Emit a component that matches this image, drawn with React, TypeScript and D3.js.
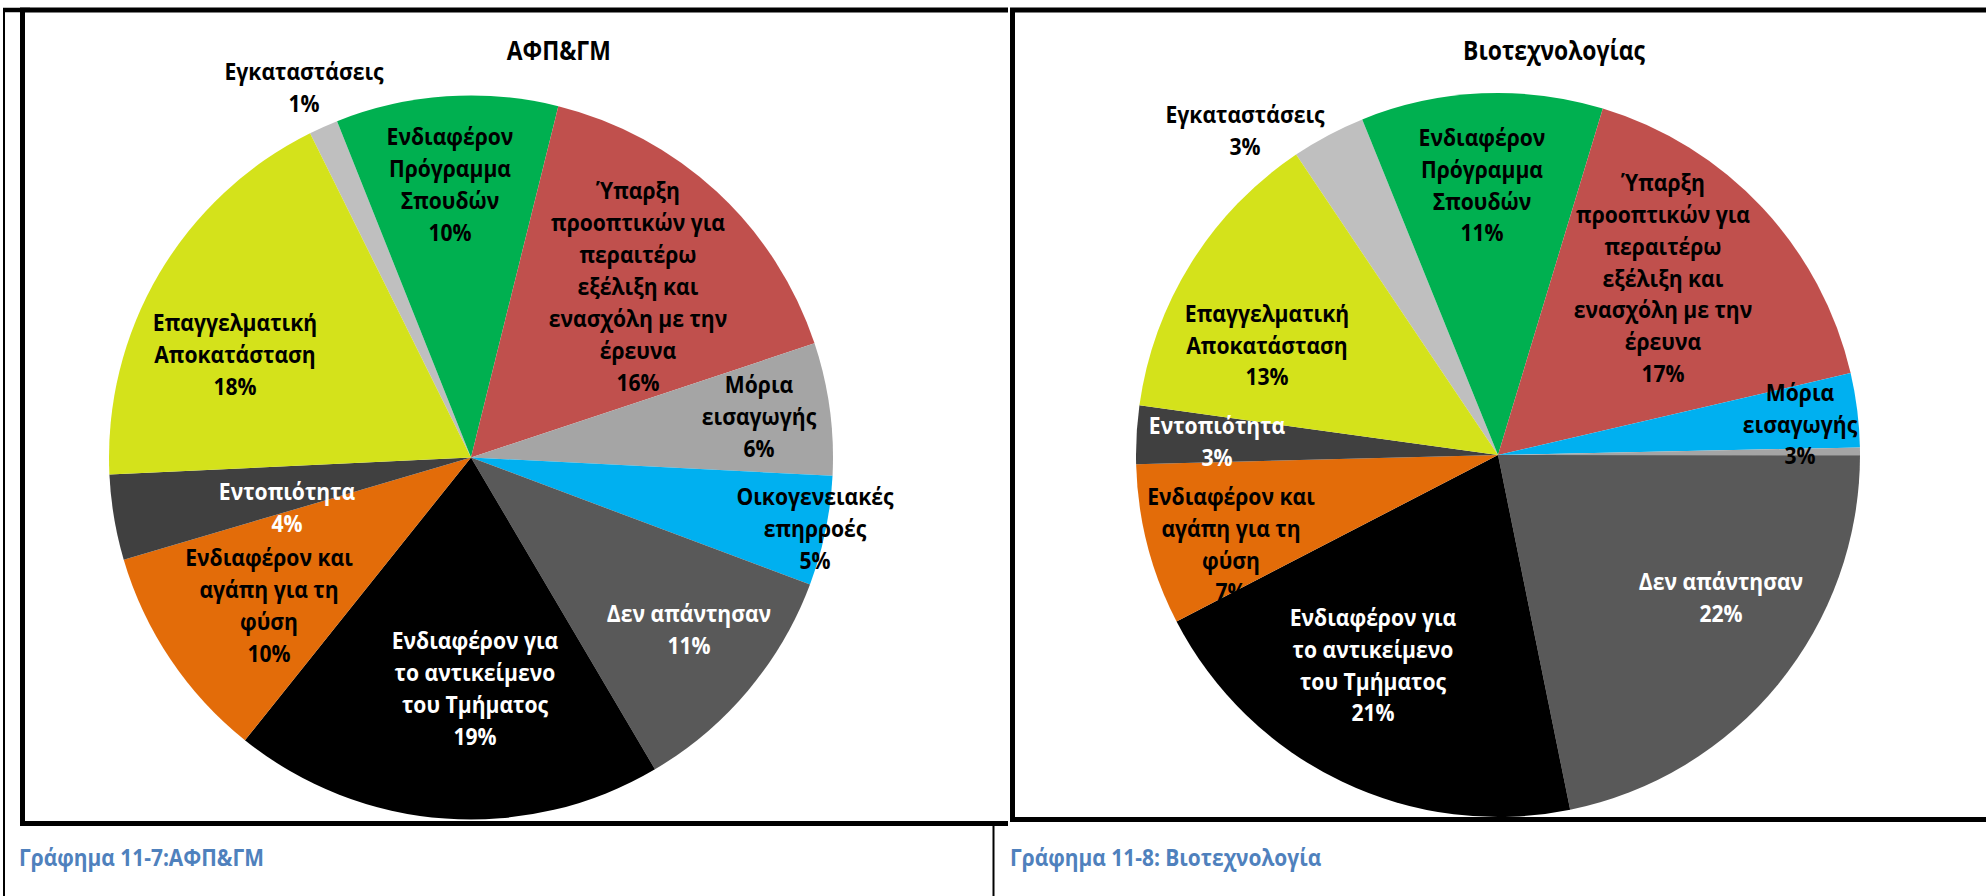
import React from 'react';
import * as d3 from 'd3';

// ---------- DATA ----------
const CATEGORIES = [
  'Εγκαταστάσεις',
  'Ενδιαφέρον Πρόγραμμα Σπουδών',
  'Ύπαρξη προοπτικών για περαιτέρω εξέλιξη και ενασχόλη με την έρευνα',
  'Μόρια εισαγωγής',
  'Οικογενειακές επηρροές',
  'Δεν απάντησαν',
  'Ενδιαφέρον για το αντικείμενο του Τμήματος',
  'Ενδιαφέρον και αγάπη για τη φύση',
  'Εντοπιότητα',
  'Επαγγελματική Αποκατάσταση',
];

const LABEL_LINES = [
  ['Εγκαταστάσεις'],
  ['Ενδιαφέρον', 'Πρόγραμμα', 'Σπουδών'],
  ['Ύπαρξη', 'προοπτικών για', 'περαιτέρω', 'εξέλιξη και', 'ενασχόλη με την', 'έρευνα'],
  ['Μόρια', 'εισαγωγής'],
  ['Οικογενειακές', 'επηρροές'],
  ['Δεν απάντησαν'],
  ['Ενδιαφέρον για', 'το αντικείμενο', 'του Τμήματος'],
  ['Ενδιαφέρον και', 'αγάπη για τη', 'φύση'],
  ['Εντοπιότητα'],
  ['Επαγγελματική', 'Αποκατάσταση'],
];

// ΑΦΠ&ΓΜ (percent shares)
const AFP_VALUES = [1.3, 9.9, 16.0, 5.9, 4.9, 10.8, 19.2, 9.7, 3.8, 18.4];
// Βιοτεχνολογίας
const BIO_VALUES = [3.3, 10.8, 16.7, 3.3, 0.35, 21.8, 20.6, 7.2, 2.6, 13.4];

const AFP_TITLE = 'ΑΦΠ&ΓΜ';
const BIO_TITLE = 'Βιοτεχνολογίας';
const AFP_CAPTION = 'Γράφημα 11-7:ΑΦΠ&ΓΜ';
const BIO_CAPTION = 'Γράφημα 11-8: Βιοτεχνολογία';

// ---------- STYLE / LAYOUT ----------
const AFP_COLORS = ['#BFBFBF', '#00B050', '#C0504D', '#A5A5A5', '#00B0F0', '#595959', '#000000', '#E36C09', '#404040', '#D4E21B'];
const BIO_COLORS = ['#BFBFBF', '#00B050', '#C0504D', '#00B0F0', '#A5A5A5', '#595959', '#000000', '#E36C09', '#404040', '#D4E21B'];
const LABEL_TEXT_COLORS = ['#000', '#000', '#000', '#000', '#000', '#fff', '#fff', '#000', '#fff', '#000'];

// label block centres relative to pie centre (px)
const AFP_LABEL_POS: [number, number][] = [
  [-167, -370], [-21, -273], [167, -171], [288, -41], [344, 71],
  [218, 172], [4, 231], [-202, 148], [-184, 50], [-236, -103],
];
const BIO_LABEL_POS: [number, number][] = [
  [-253, -325], [-16, -270], [165, -177], [302, -31], [0, 0],
  [223, 142], [-125, 210], [-267, 89], [-281, -14], [-231, -110],
];

const FONT = "'Open Sans', 'Noto Sans', sans-serif";
const SX = 0.88; // horizontal condensing to mimic Calibri widths
const LABEL_SIZE = 24;
const LINE_H = 32;
const R = 362;

type PieProps = {
  values: number[];
  colors: string[];
  labelPos: [number, number][];
  cx: number;
  cy: number;
  startDeg: number;
};

function Pie({ values, colors, labelPos, cx, cy, startDeg }: PieProps) {
  const total = d3.sum(values);
  const start = (startDeg * Math.PI) / 180;
  const pie = d3.pie<number>().sort(null).value((d) => d).startAngle(start).endAngle(start + 2 * Math.PI);
  const arcs = pie(values);
  const arc = d3.arc<d3.PieArcDatum<number>>().innerRadius(0).outerRadius(R);
  return (
    <g transform={`translate(${cx},${cy})`}>
      {arcs.map((a, i) => (
        <path key={'s' + i} d={arc(a) || ''} fill={colors[i]} />
      ))}
      {arcs.map((a, i) => {
        const pct = Math.round((values[i] / total) * 100);
        if (pct === 0) return null;
        const lines = [...LABEL_LINES[i], pct + '%'];
        const [lx, ly] = labelPos[i];
        const n = lines.length;
        return (
          <g key={'l' + i} transform={`translate(${lx},${ly}) scale(${SX},1)`}>
            <text
              textAnchor="middle"
              fontFamily={FONT}
              fontWeight={700}
              fontSize={LABEL_SIZE}
              fill={LABEL_TEXT_COLORS[i]}
            >
              {lines.map((t, k) => (
                <tspan key={k} x={0} y={(k - (n - 1) / 2) * LINE_H + 8.5}>
                  {t}
                </tspan>
              ))}
            </text>
          </g>
        );
      })}
    </g>
  );
}

function Title({ x, y, text }: { x: number; y: number; text: string }) {
  return (
    <g transform={`translate(${x},${y}) scale(${SX},1)`}>
      <text textAnchor="middle" fontFamily={FONT} fontWeight={700} fontSize={26} fill="#000">
        {text}
      </text>
    </g>
  );
}

function Caption({ x, y, text }: { x: number; y: number; text: string }) {
  return (
    <g transform={`translate(${x},${y}) scale(0.93,1)`}>
      <text fontFamily={FONT} fontWeight={700} fontSize={22.5} fill="#4F81BD">
        {text}
      </text>
    </g>
  );
}

export default function App() {
  return (
    <svg
      width={1986}
      height={896}
      style={{ position: 'absolute', left: 0, top: 0, background: '#fff' }}
    >
      <rect x={0} y={0} width={1986} height={896} fill="#fff" />
      {/* table lines */}
      <line x1={4} y1={8} x2={4} y2={896} stroke="#000" strokeWidth={2} />
      <line x1={993.5} y1={824} x2={993.5} y2={896} stroke="#000" strokeWidth={2} />
      <line x1={3} y1={10} x2={30} y2={10} stroke="#000" strokeWidth={4.5} />

      {/* chart 1 frame */}
      <path d="M1008,10 L22.5,10 L22.5,823.5 L1008,823.5" fill="#fff" stroke="#000" strokeWidth={5} />
      <Pie values={AFP_VALUES} colors={AFP_COLORS} labelPos={AFP_LABEL_POS} cx={471} cy={457.5} startDeg={-26.4} />
      <Title x={558.7} y={60} text={AFP_TITLE} />

      {/* chart 2 frame */}
      <rect x={1012.5} y={10} width={1100} height={809.5} fill="#fff" stroke="#000" strokeWidth={5} />
      <Pie values={BIO_VALUES} colors={BIO_COLORS} labelPos={BIO_LABEL_POS} cx={1498} cy={455} startDeg={-33.9} />
      <Title x={1554} y={60} text={BIO_TITLE} />

      <Caption x={19} y={866} text={AFP_CAPTION} />
      <Caption x={1010} y={866} text={BIO_CAPTION} />
    </svg>
  );
}
